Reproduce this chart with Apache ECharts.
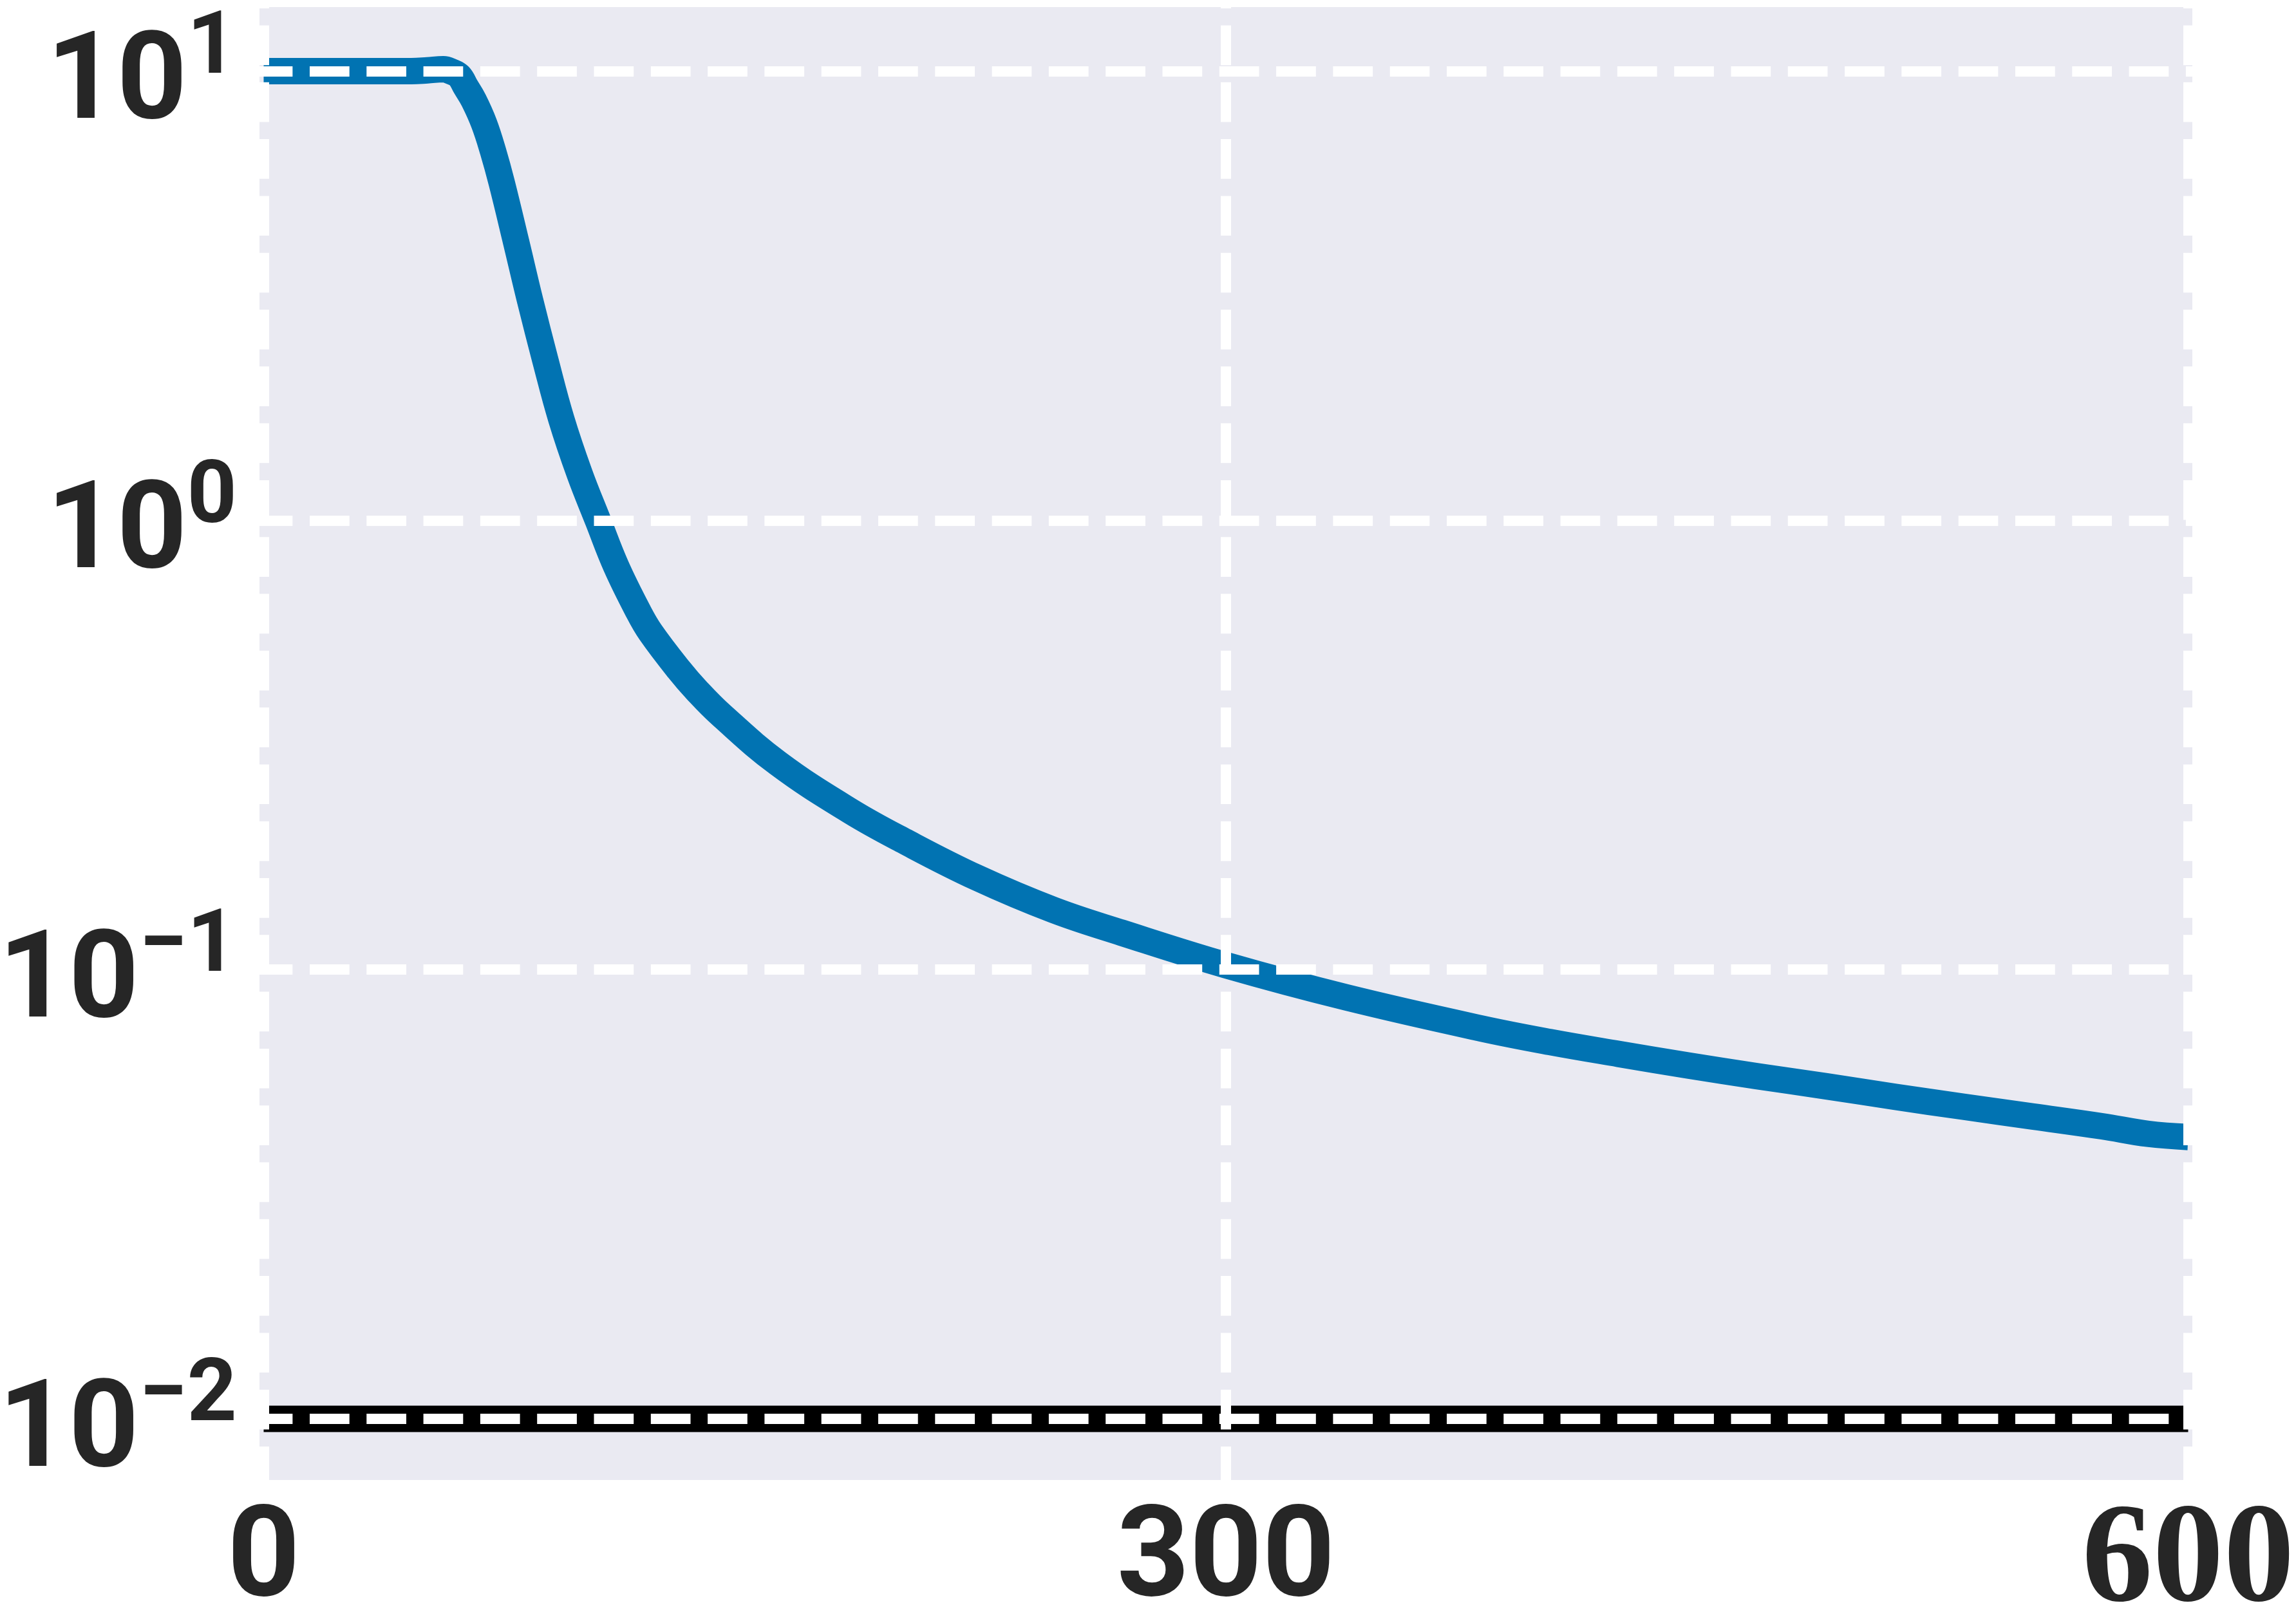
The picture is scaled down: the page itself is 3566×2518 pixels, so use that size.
<!DOCTYPE html>
<html>
<head>
<meta charset="utf-8">
<script src="https://cdn.jsdelivr.net/npm/echarts@6/dist/echarts.min.js"></script>
<style>
  html, body { margin: 0; padding: 0; background: #ffffff; }
  #chart { width: 3566px; height: 2518px; }
</style>
</head>
<body>
<div id="chart"></div>
<script>
// x ticks and the x range
const xTicks = [0, 300, 600];
const xMin = 0;
const xMax = 600;
// y range of the log axis (decades)
const yMin = 0.01;
const yMax = 10;

// blue curve
const curveX = [0, 20, 40, 46, 51, 56, 58.5, 61, 63, 65.5, 68.7, 71.5, 74.2, 78.7, 83.1, 87.8, 92.8, 98.5,
  104.2, 109.9, 116.8, 120.6, 129.4, 135.2, 142.8, 160.4, 182.9, 200, 222.3, 246.3, 267.5, 300,
  337.6, 379.5, 401, 422.5, 444, 465.6, 487.1, 508.6, 530.1, 551.6, 573.1, 587.5, 600];
const curveY = [10.0, 10.0, 10.0, 10.0, 10.04, 10.1, 9.98, 9.75, 9.23, 8.61, 7.65, 6.64, 5.65, 4.17, 3.08, 2.275, 1.68, 1.27,
  1.0, 0.790, 0.627, 0.5636, 0.4656, 0.417, 0.368, 0.2877, 0.2254, 0.1928, 0.1603, 0.1357, 0.1208, 0.1023,
  0.0867, 0.0740, 0.0690, 0.0649, 0.0612, 0.0579, 0.0550, 0.0521, 0.0495, 0.0471, 0.0448, 0.0431, 0.0424];

// black reference line
const refX = [0, 600];
const refY = [0.01, 0.01];

const textColor = "#262626";
const sansFont = "Roboto, 'DejaVu Sans', sans-serif";
const serifFont = "'Liberation Serif', 'DejaVu Serif', serif";

// plot box
const W = 3566, H = 2518;
const plotLeft = 409.5, plotRight = 3398.5;    // x = 0 and x = 600
const boxLeft = 403, boxRight = 3405, boxTop = 11, boxBottom = 2299;
const decTop = 110.5, decBottom = 2204;        // 10^1 and 10^-2
const pxPerUnit = (plotRight - plotLeft) / (xMax - xMin);
const xPadL = (plotLeft - boxLeft) / pxPerUnit;
const xPadR = (boxRight - plotRight) / pxPerUnit;

const gridDash = { color: "#ffffff", width: 16, type: [61.7, 26.6] };

const zip = (a, b) => a.map((v, i) => [v, b[i]]);

const chart = echarts.init(document.getElementById("chart"), null, { renderer: "canvas" });

const option = {
  animation: false,
  backgroundColor: "#ffffff",
  graphic: [
    {
      type: "rect",
      z: -10,
      silent: true,
      shape: { x: boxLeft, y: boxTop, width: boxRight - boxLeft, height: boxBottom - boxTop },
      style: { fill: "#EAEAF2" },
    },
  ],
  grid: [
    // vertical grid lines + x labels
    {
      left: plotLeft, right: W - plotRight, top: boxTop, bottom: H - boxBottom,
      show: false, containLabel: false, outerBoundsMode: "none",
    },
    // data + horizontal grid lines + y labels
    {
      left: boxLeft, right: W - boxRight, top: decTop, bottom: H - decBottom,
      show: false, containLabel: false, outerBoundsMode: "none",
    },
  ],
  xAxis: [
    {
      gridIndex: 0,
      type: "value",
      min: xMin,
      max: xMax,
      interval: xTicks[1] - xTicks[0],
      z: 5,
      axisLine: { show: false },
      axisTick: { show: false },
      splitLine: { show: true, lineStyle: Object.assign({}, gridDash, { dashOffset: 59.8 }) },
      axisLabel: {
        margin: 35,
        formatter: (v) => (v === xTicks[2] ? "{r|" + v + "}" : "{n|" + v + "}"),
        rich: {
          n: { fontSize: 197, fontWeight: "bold", fontFamily: sansFont, color: textColor, lineHeight: 190 },
          r: { fontSize: 220, fontWeight: "bold", fontFamily: serifFont, color: textColor, lineHeight: 190 },
        },
      },
    },
    {
      gridIndex: 1,
      type: "value",
      min: xMin - xPadL,
      max: xMax + xPadR,
      show: false,
      splitLine: { show: false },
    },
  ],
  yAxis: [
    {
      gridIndex: 0,
      type: "value",
      show: false,
      splitLine: { show: false },
    },
    {
      gridIndex: 1,
      type: "log",
      logBase: 10,
      min: yMin,
      max: yMax,
      z: 5,
      axisLine: { show: false },
      axisTick: { show: false },
      minorTick: { show: false },
      splitLine: { show: true, lineStyle: Object.assign({}, gridDash, { dashOffset: 10.3 }) },
      axisLabel: {
        margin: 35,
        padding: [50, 0, 0, 0],
        formatter: (v) => {
          const e = Math.round(Math.log10(v));
          const s = e < 0 ? "\u2212" + -e : "" + e;
          return "{m|10}{s|" + s + "}";
        },
        rich: {
          m: { fontSize: 190, fontWeight: "bold", fontFamily: sansFont, color: textColor, lineHeight: 248 },
          s: { fontSize: 135, fontWeight: "bold", fontFamily: sansFont, color: textColor, verticalAlign: "top" },
        },
      },
    },
  ],
  series: [
    {
      type: "line",
      xAxisIndex: 1,
      yAxisIndex: 1,
      data: zip(refX, refY),
      showSymbol: false,
      clip: false,
      silent: true,
      lineStyle: { color: "#000000", width: 41, cap: "butt" },
      z: 2,
    },
    {
      type: "line",
      xAxisIndex: 1,
      yAxisIndex: 1,
      data: zip(curveX, curveY),
      showSymbol: false,
      smooth: 0.4,
      clip: false,
      silent: true,
      lineStyle: { color: "#0173B2", width: 41, cap: "butt", join: "round" },
      z: 2,
    },
  ],
};

chart.setOption(option);
</script>
</body>
</html>
